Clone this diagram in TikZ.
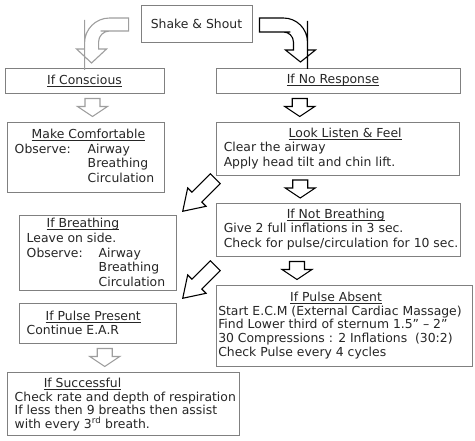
\documentclass[tikz,border=0pt]{standalone}
\usepackage{fontspec}
\setmainfont{DejaVu Sans}
\usetikzlibrary{calc}
\newcommand{\uhead}[1]{\setbox0=\hbox{#1}\rlap{\rule[-2.4pt]{\wd0}{0.9pt}}\box0}
\tikzset{
  downarr/.pic={\path[pic actions] (-7.5,-9) -- (7.5,-9) -- (7.5,-1) -- (15,-1) -- (0,9) -- (-15,-1) -- (-7.5,-1) -- cycle;},
  diagarr/.pic={\path[pic actions] (-7,-23) -- (7,-23) -- (7,3) -- (13,3) -- (0,23) -- (-13,3) -- (-7,3) -- cycle;},
}
\tikzset{flowpanel/.style={
  x=1pt, y=-1pt,
  font=\fontsize{12.4}{14.6}\selectfont,
  box/.style={draw=black!50, line width=0.9pt, fill=white, inner sep=0pt, text=black!85},
  txt/.style={anchor=west, align=left, inner sep=0pt, text=black!85},
  tight/.style={font=\fontsize{12.4}{13.6}\selectfont},
  blk/.style={draw=black, line width=1.1pt, fill=white},
  gry/.style={draw=black!38, line width=1.1pt, fill=white},
}}

\begin{document}
\begin{tikzpicture}[flowpanel]
\useasboundingbox (0,0) rectangle (475,441);
% =====================================================================
%  top: first check, then the two branches
% =====================================================================
\node[box, minimum width=111pt, minimum height=37pt] (shake) at (196.5,23.5) {Shake \& Shout};
\node[box, minimum width=159pt, minimum height=25pt] (consc) at (84.5,80.5) {\uhead{If Conscious}};
\node[box, minimum width=244pt, minimum height=25pt] (noresp) at (338,80.5) {\hspace*{-10pt}\uhead{If No Response}};

\draw[gry] ([shift={(-12,-5.5)}]shake.west) -- ++(-17,0) [rounded corners=25pt] -- ++(-27,0) -- ++(0,27)
  [sharp corners] -- ++(0,4) -- ++(-8,0) -- ++(15,14) -- ++(15,-14) -- ++(-8,0) -- ++(0,-5)
  [rounded corners=11pt] -- ++(0,-13) -- ++(13,0) [sharp corners] -- ++(17,0) -- cycle;
\draw[blk] ([shift={(7,-5.5)}]shake.east) -- ++(21,0) [rounded corners=24pt] -- ++(27,0) -- ++(0,27)
  [sharp corners] -- ++(0,5) -- ++(8,0) -- ++(-15,12) -- ++(-15,-12) -- ++(8,0) -- ++(0,-5)
  [rounded corners=10pt] -- ++(0,-13) -- ++(-13,0) [sharp corners] -- ++(-21,0) -- cycle;

% =====================================================================
%  left column
% =====================================================================
\node[box, minimum width=157pt, minimum height=70pt] (comf) at (85.5,157) {};
\node[txt] (comfT) at ([shift={(8pt,1pt)}]comf.west) {\hspace*{17pt}\uhead{Make Comfortable}\\
  \makebox[73pt][l]{Observe:}Airway\\ \hspace*{73pt}Breathing\\ \hspace*{73pt}Circulation};

\node[box, minimum width=157pt, minimum height=75pt] (brth) at (97.5,252.5) {};
\node[txt] (brthT) at ([xshift=8pt]brth.west) {\hspace*{20pt}\uhead{If Breathing}\\ Leave on side.\\
  \makebox[72pt][l]{Observe:}Airway\\ \hspace*{72pt}Breathing\\ \hspace*{72pt}Circulation};

\node[box, minimum width=157pt, minimum height=40pt] (present) at (97.5,323) {};
\node[txt] (presentT) at ([xshift=8pt]present.west) {\hspace*{19pt}\uhead{If Pulse Present}\\ Continue E.A.R};

\node[box, minimum width=232pt, minimum height=63pt] (success) at (123,403.5) {};
\node[txt, tight] (successT) at ([shift={(8pt,-1pt)}]success.west) {\hspace*{29pt}\uhead{If Successful}\\
  Check rate and depth of respiration\\ If less then 9 breaths then assist\\
  with every 3\textsuperscript{rd} breath.};

% =====================================================================
%  right column
% =====================================================================
\node[box, minimum width=243pt, minimum height=53pt] (look) at (337.5,148.5) {};
\node[txt] (lookT) at ([xshift=8pt]look.west) {\hspace*{65pt}\uhead{Look Listen \& Feel}\\
  Clear the airway\\ Apply head tilt and chin lift.};

\node[box, minimum width=244pt, minimum height=53pt] (notbr) at (338,229.5) {};
\node[txt] (notbrT) at ([xshift=8pt]notbr.west) {\hspace*{63pt}\uhead{If Not Breathing}\\
  Give 2 full inflations in 3 sec.\\ Check for pulse/circulation for 10 sec.};

\node[box, minimum width=256pt, minimum height=81pt] (absent) at (344,325.5) {};
\node[txt, tight] (absentT) at ([xshift=2.5pt]absent.west) {\hspace*{72pt}\uhead{If Pulse Absent}\\
  Start E.C.M (External Cardiac Massage)\\ Find Lower third of sternum 1.5” – 2”\\
  30 Compressions : 2 Inflations\ \ (30:2)\\ Check Pulse every 4 cycles};

% block arrows between the boxes
\pic[gry] at ($(consc.south)!.5!(comf.north)+(7.5,0)$) {downarr};
\pic[blk] at ($(noresp.south)!.5!(look.north)+(-38,0)$) {downarr};
\pic[blk] at ($(look.south)!.5!(notbr.north)+(-37.5,0)$) {downarr};
\pic[blk] at ($(notbr.south)!.5!(absent.north)+(-44,0)$) {downarr};
\pic[gry] at ($(present.south)!.5!(success.north)+(-5.5,0)$) {downarr};
\pic[blk, rotate=-45] at ($(look.south west)!.5!(brth.north east)+(3,0)$) {diagarr};
\pic[blk, rotate=-45] at ($(notbr.south west)!.5!(present.north east)+(3,2.5)$) {diagarr};
\end{tikzpicture}
\end{document}
